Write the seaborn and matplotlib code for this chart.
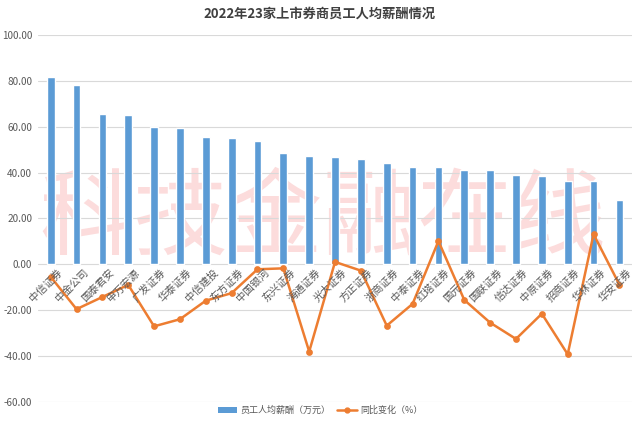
import matplotlib
matplotlib.use("Agg")
import matplotlib.pyplot as plt
import seaborn as sns
import pandas as pd
from matplotlib.patches import Patch
from matplotlib.lines import Line2D

# data
brokers = ['中信证券', '中金公司', '国泰君安', '申万宏源', '广发证券', '华泰证券',
           '中信建投', '东方证券', '中国银河', '东兴证券', '海通证券', '光大证券',
           '方正证券', '浙商证券', '中泰证券', '红塔证券', '国元证券', '国联证券',
           '信达证券', '中原证券', '招商证券', '华林证券', '华安证券']
salary = [81.9, 78.3, 65.7, 65.0, 59.8, 59.6, 55.7, 55.0, 53.9, 48.7, 47.4, 46.9,
          46.0, 44.1, 42.4, 42.4, 41.2, 40.9, 38.8, 38.4, 36.1, 36.1, 28.1]
yoy = [-5.5, -19.6, -14.3, -9.0, -27.1, -24.0, -15.9, -12.6, -2.2, -1.8, -38.1, 1.0,
       -2.8, -26.8, -17.3, 10.1, -15.6, -25.5, -32.6, -21.6, -39.3, 13.1, -8.9]

df = pd.DataFrame({'券商': brokers, '薪酬': salary, '同比': yoy})

sns.set_style('white')
plt.rcParams['font.family'] = ['Noto Sans CJK SC', 'DejaVu Sans']
plt.rcParams['axes.unicode_minus'] = False

bar_color = '#5B9BD5'
line_color = '#ED7D31'
text_color = '#595959'

fig = plt.figure(figsize=(6.4, 4.22), dpi=100)
ax = fig.add_axes([0.059, 0.048, 0.929, 0.869])
ax.patch.set_visible(False)

sns.barplot(data=df, x='券商', y='薪酬', color=bar_color, width=0.3,
            saturation=1, ax=ax, zorder=2)
sns.pointplot(data=df, x='券商', y='同比', color=line_color, errorbar=None,
              markers='o', markersize=3.5, linewidth=1.8, ax=ax)
for c in ax.collections:
    c.set_zorder(4)
for ln in ax.lines:
    ln.set_zorder(4)

ax.set_ylim(-60, 100)
ax.set_xlim(-0.5, len(brokers) - 0.5)
ax.set_yticks(range(-60, 101, 20))
ax.set_yticklabels([f'{v:.2f}' for v in range(-60, 101, 20)],
                   fontsize=7.2, color=text_color)
ax.yaxis.grid(True, color='#D9D9D9', linewidth=0.8, zorder=0)
ax.set_axisbelow(True)
for s in ax.spines.values():
    s.set_visible(False)
ax.tick_params(axis='y', length=0, pad=4)
ax.set_xlabel('')
ax.set_ylabel('')
ax.set_xticks([])

# category labels sit under the zero line, rotated like Excel
for i, name in enumerate(brokers):
    ax.text(i + 0.25, -1.2, name, rotation=45, ha='right', va='top',
            rotation_mode='anchor', fontsize=7.5, color=text_color, zorder=5)

fig.text(0.5, 0.968, '2022年23家上市券商员工人均薪酬情况', ha='center',
         va='center', fontsize=9.5, fontweight='bold', color='#404040')

# watermark, drawn behind the axes
fig.text(0.505, 0.48, '科技金融在线', ha='center', va='center', fontsize=68,
         color='#FCDCDC', zorder=-1)

handles = [Patch(facecolor=bar_color, edgecolor='none'),
           Line2D([0], [0], color=line_color, marker='o', markersize=3.5,
                  linewidth=1.8)]
fig.legend(handles, ['员工人均薪酬（万元）', '同比变化（%）'], loc='center',
           bbox_to_anchor=(0.5, 0.028), ncol=2, frameon=False, fontsize=6.5,
           labelcolor=text_color, handlelength=2.2, columnspacing=0.8,
           handletextpad=0.3)

fig.savefig('out.png', dpi=100)
